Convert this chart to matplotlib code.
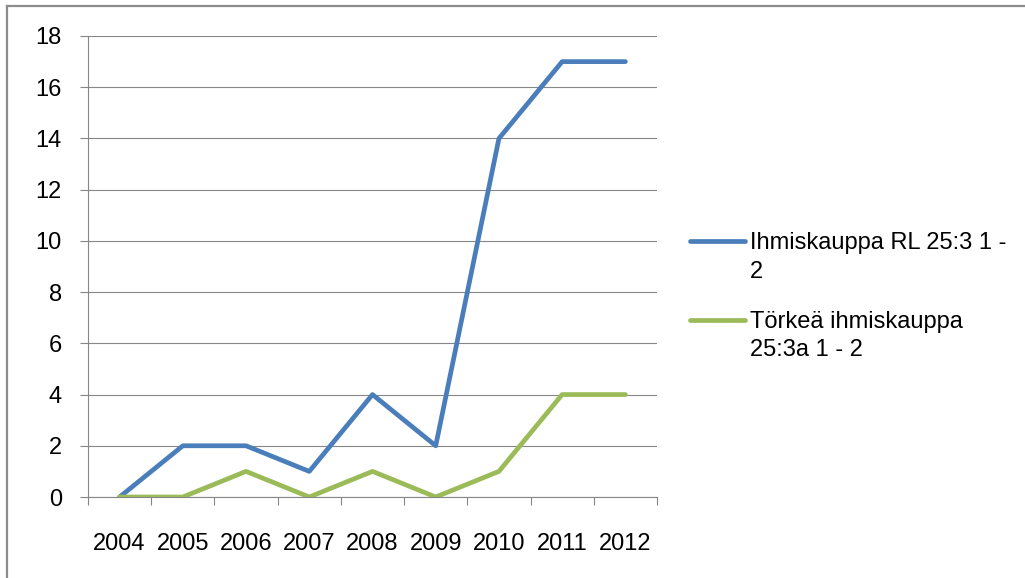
"""Line chart: ihmiskauppa cases per year, Excel-style look."""

import matplotlib

matplotlib.use("Agg")
import matplotlib.pyplot as plt  # noqa: E402
from matplotlib.lines import Line2D  # noqa: E402

plt.rcParams["font.family"] = ["Liberation Sans", "DejaVu Sans"]

years = ["2004", "2005", "2006", "2007", "2008", "2009", "2010", "2011", "2012"]
ihmiskauppa = [0, 2, 2, 1, 4, 2, 14, 17, 17]
torkea = [0, 0, 1, 0, 1, 0, 1, 4, 4]
y_ticks = [0, 2, 4, 6, 8, 10, 12, 14, 16, 18]

label_blue = "Ihmiskauppa RL 25:3 1 -\n2"
label_green = "Törkeä ihmiskauppa\n25:3a 1 - 2"

BLUE = "#4a7ebb"
GREEN = "#9bbb59"
GRID = "#868686"
FS = 17
LW = 3.4

W, H = 1025, 578
fig = plt.figure(figsize=(W / 100, H / 100), dpi=100)
ax = fig.add_axes([88 / W, 1 - 497 / H, (657 - 88) / W, (497 - 36) / H])

xs = list(range(len(years)))
ax.plot(xs, ihmiskauppa, color=BLUE, lw=LW, solid_capstyle="round",
        solid_joinstyle="round", zorder=3)
ax.plot(xs, torkea, color=GREEN, lw=LW, solid_capstyle="round",
        solid_joinstyle="round", zorder=3)

ax.set_xlim(-0.5, len(years) - 0.5)
ax.set_ylim(0, 18)
ax.set_yticks(y_ticks)
ax.set_xticks(xs)
ax.set_xticklabels(years)
ax.set_xticks([i - 0.5 for i in range(len(years) + 1)], minor=True)

ax.yaxis.grid(True, color=GRID, lw=0.8)
ax.set_axisbelow(True)
for side in ["top", "right"]:
    ax.spines[side].set_visible(False)
for side in ["left", "bottom"]:
    ax.spines[side].set_color(GRID)
    ax.spines[side].set_linewidth(0.8)

ax.tick_params(axis="y", length=5.8, width=0.8, color=GRID, pad=13,
               labelsize=FS)
ax.tick_params(axis="x", which="major", length=0, pad=26, labelsize=FS)
ax.tick_params(axis="x", which="minor", length=5.8, width=0.8, color=GRID)

# legend, drawn by hand so the key sits on the first text line
# (baseline alignment of multi-line text uses the last line)
for ykey, ylast, col, lab in [(241, 277.5, BLUE, label_blue),
                              (320, 356.5, GREEN, label_green)]:
    fig.add_artist(Line2D([690 / W, 745 / W], [1 - ykey / H, 1 - ykey / H],
                          color=col, lw=LW, solid_capstyle="round"))
    fig.text(750 / W, 1 - ylast / H, lab, fontsize=FS, va="baseline",
             ha="left", linespacing=1.38)

# outer chart border (only top and left survive the crop)
fig.add_artist(Line2D([7 / W, 1], [1 - 6 / H, 1 - 6 / H], color="#8c8c8c",
                      lw=1.6))
fig.add_artist(Line2D([7 / W, 7 / W], [0, 1 - 6 / H], color="#8c8c8c",
                      lw=1.6))

fig.savefig("out.png", dpi=100)
plt.close(fig)
